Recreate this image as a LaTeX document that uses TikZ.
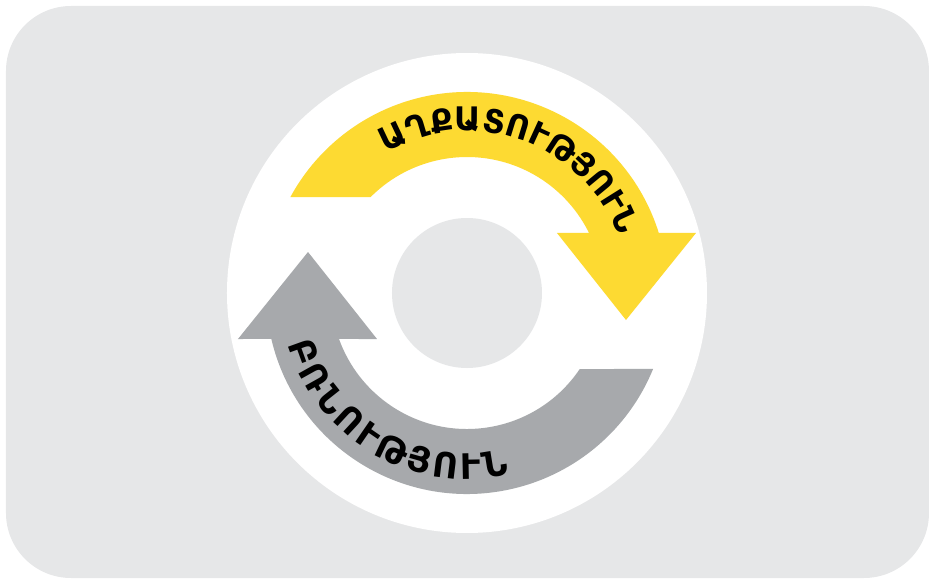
\documentclass[tikz,border=0pt]{standalone}
\usepackage{fontspec}
\usetikzlibrary{decorations.text}
\newfontfamily\armfont{DejaVu Sans}

\definecolor{bggray}{RGB}{230,231,232}
\definecolor{arrowyellow}{RGB}{253,218,50}
\definecolor{arrowgray}{RGB}{167,169,172}

\tikzset{
    cyclelabel/.style 2 args={decorate, decoration={text along path,
        text align=fit to path, text={|\armfont\bfseries\fontsize{#1}{#1}\selectfont|#2}}}
}

\begin{document}
\begin{tikzpicture}[x=0.02cm, y=0.02cm]
    \useasboundingbox (-467,-289) rectangle (471,293);

    % background card and disc
    \fill[bggray, rounded corners=1.3cm] (-461,-285) rectangle (462,287);
    \fill[white] (0,0) circle (240);
    \fill[bggray] (0,0) circle (75);

    % upper arrow
    \fill[arrowyellow] (135.1:136) arc[start angle=135.1, end angle=26.2, radius=136]
        -- (90,60) -- (159,-27) -- (229,60)
        -- (17.4:201) arc[start angle=17.4, end angle=151.5, radius=201] -- cycle;

    % lower arrow
    \fill[arrowgray] (-34:136) arc[start angle=-34, end angle=-160.23, radius=136]
        -- (-90,-46) -- (-159,41) -- (-229,-46)
        -- (193.23:201) arc[start angle=193.23, end angle=337.8, radius=201] -- cycle;

    % labels
    \path[cyclelabel={18.5}{ԱՂՔԱՏՈՒԹՅՈՒՆ}] (120:162) arc[start angle=120, end angle=23, radius=162];
    \path[cyclelabel={20}{ԲՌՆՈՒԹՅՈՒՆ}] (196:186) arc[start angle=196, end angle=283, radius=186];
\end{tikzpicture}
\end{document}
